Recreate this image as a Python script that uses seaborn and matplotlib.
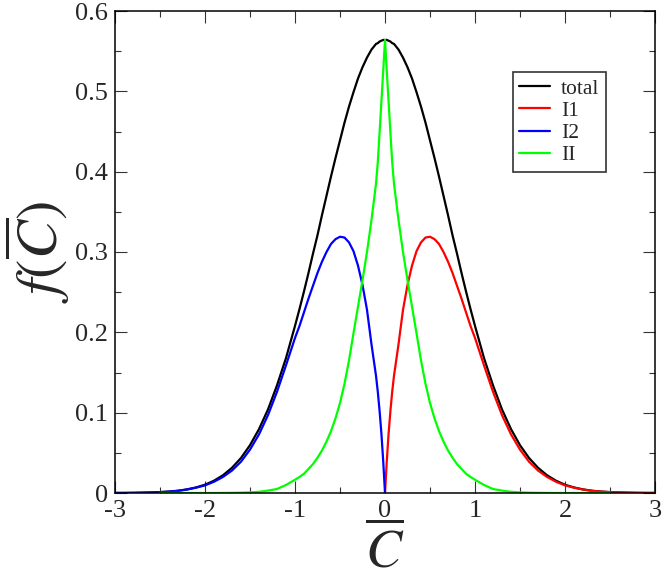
import numpy as np
import pandas as pd
import matplotlib
matplotlib.use("Agg")
import matplotlib.pyplot as plt
from matplotlib.ticker import MultipleLocator, FixedLocator, FixedFormatter
import seaborn as sns

# ---- data (positive half; curves are mirror-symmetric) ----
x_pos = [0.00, 0.02, 0.04, 0.06, 0.08, 0.10,
         0.15, 0.20, 0.25, 0.30, 0.35, 0.40, 0.45, 0.50, 0.55, 0.60, 0.65, 0.70,
         0.75, 0.80, 0.85, 0.90, 0.95, 1.00,
         1.1, 1.2, 1.3, 1.4, 1.5, 1.6, 1.7, 1.8, 1.9, 2.0,
         2.1, 2.2, 2.3, 2.4, 2.5, 2.6, 2.7, 2.8, 2.9, 3.0]
total_pos = [0.564, 0.564, 0.563, 0.562, 0.560, 0.559,
             0.552, 0.542, 0.530, 0.516, 0.499, 0.481, 0.461, 0.439, 0.417, 0.394, 0.370, 0.346,
             0.321, 0.298, 0.274, 0.251, 0.229, 0.208,
             0.168, 0.134, 0.104, 0.0795, 0.0595, 0.0436, 0.0314, 0.0221, 0.0153, 0.0103,
             0.0069, 0.0045, 0.0028, 0.0018, 0.0011, 0.0007, 0.0004, 0.0002, 0.0001, 0.0001]
I1_pos = [0.000, 0.040, 0.074, 0.102, 0.126, 0.146,
          0.185, 0.228, 0.259, 0.283, 0.301, 0.312, 0.318, 0.319, 0.316, 0.310, 0.300, 0.288,
          0.274, 0.258, 0.242, 0.225, 0.208, 0.193,
          0.159, 0.126, 0.097, 0.073, 0.054, 0.039, 0.028, 0.020, 0.014, 0.0095,
          0.0066, 0.0043, 0.0027, 0.0017, 0.0011, 0.0007, 0.0004, 0.0002, 0.0001, 0.0001]
II_pos = [0.564, 0.525, 0.487, 0.449, 0.412, 0.385,
          0.340, 0.300, 0.265, 0.232, 0.199, 0.165, 0.136, 0.112, 0.093, 0.077, 0.064, 0.053,
          0.044, 0.036, 0.030, 0.024, 0.020, 0.0165,
          0.010, 0.005, 0.003, 0.0015, 0.0008, 0.0004, 0.0002, 0.0001, 0.0, 0.0,
          0.0, 0.0, 0.0, 0.0, 0.0, np.nan, np.nan, np.nan, np.nan, np.nan]

series_names = ["total", "I1", "I2", "II"]
series_colors = ["#000000", "#ff0000", "#0000ff", "#00ff00"]
x_ticks = [-3, -2, -1, 0, 1, 2, 3]
x_ticklabels = ["-3", "-2", "-1", "0", "1", "2", "3"]
y_ticks = [0, 0.1, 0.2, 0.3, 0.4, 0.5, 0.6]
y_ticklabels = ["0", "0.1", "0.2", "0.3", "0.4", "0.5", "0.6"]

# build full curves from the symmetric halves
xp = np.array(x_pos)
x_full = np.concatenate([-xp[::-1], xp[1:]])
tp = np.array(total_pos)
total_full = np.concatenate([tp[::-1], tp[1:]])
iip = np.array(II_pos)
II_full = np.concatenate([iip[::-1], iip[1:]])

frames = [
    pd.DataFrame({"x": x_full, "y": total_full, "series": "total"}),
    pd.DataFrame({"x": xp, "y": I1_pos, "series": "I1"}),
    pd.DataFrame({"x": -xp, "y": I1_pos, "series": "I2"}),
    pd.DataFrame({"x": x_full, "y": II_full, "series": "II"}),
]
df = pd.concat(frames, ignore_index=True).dropna()

sns.set_style("ticks")
plt.rcParams["font.family"] = ["Liberation Serif", "DejaVu Serif"]
plt.rcParams["mathtext.fontset"] = "stix"
plt.rcParams["axes.unicode_minus"] = False

fig = plt.figure(figsize=(6.64, 5.82), dpi=100)
ax = fig.add_axes([115/664, 89/582, 540/664, 482/582])

sns.lineplot(data=df, x="x", y="y", hue="series", hue_order=series_names,
             palette=dict(zip(series_names, series_colors)),
             sort=False, estimator=None, linewidth=1.6, ax=ax)

ax.set_xlim(-3, 3)
ax.set_ylim(0, 0.6)
ax.xaxis.set_major_locator(FixedLocator(x_ticks))
ax.xaxis.set_major_formatter(FixedFormatter(x_ticklabels))
ax.yaxis.set_major_locator(FixedLocator(y_ticks))
ax.yaxis.set_major_formatter(FixedFormatter(y_ticklabels))
ax.xaxis.set_minor_locator(MultipleLocator(0.5))
ax.yaxis.set_minor_locator(MultipleLocator(0.05))
ax.tick_params(which="both", direction="in", top=True, right=True,
               color="#333333", width=0.8)
ax.tick_params(which="major", length=8.5, labelsize=19, pad=5)
ax.tick_params(which="minor", length=4.3)
for s in ax.spines.values():
    s.set_linewidth(1.1)
    s.set_color("black")

ax.set_xlabel(r"$\overline{C}$", fontsize=39, labelpad=2)
ax.set_ylabel(r"$f(\overline{C})$", fontsize=42, labelpad=2)

leg = ax.legend(loc="upper right", bbox_to_anchor=(0.909, 0.873), borderaxespad=0,
                fontsize=15.5, frameon=True, fancybox=False, handlelength=1.45,
                handletextpad=0.5, labelspacing=0.1, borderpad=0.3)
leg.get_frame().set_edgecolor("black")
leg.get_frame().set_linewidth(1.2)
for line in leg.get_lines():
    line.set_linewidth(1.6)

fig.savefig("out.png", dpi=100)
